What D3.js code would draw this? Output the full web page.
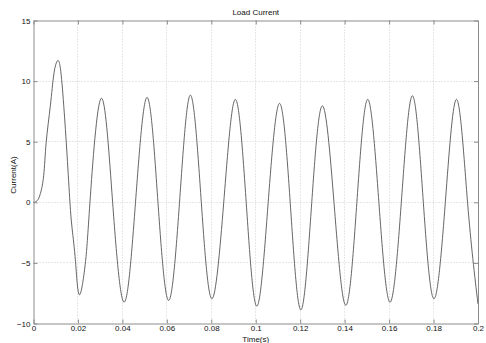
<!DOCTYPE html>
<html>
<head>
<meta charset="utf-8">
<script src="https://cdn.jsdelivr.net/npm/d3@7"></script>
<style>
  body { margin: 0; background: #fff; }
  svg { display: block; font-family: "Liberation Sans", Arial, sans-serif; }
  .grid line { stroke: #cfcfcf; stroke-dasharray: 1,2; }
</style>
</head>
<body>
<script>
// time (s) and current (A): extremes, zero crossings, early transient
var times = [0, 0.0017, 0.0031, 0.0046, 0.0057, 0.0076, 0.0091, 0.01065, 0.0121, 0.0136, 0.0151, 0.0164,
  0.0174, 0.0189, 0.0207, 0.0234, 0.0254, 0.0304, 0.0356, 0.0408, 0.0459, 0.0511, 0.0560, 0.0608,
  0.0657, 0.0706, 0.0755, 0.0803, 0.0856, 0.0908, 0.0957, 0.1005, 0.1056, 0.1107, 0.1155, 0.1203,
  0.1252, 0.1300, 0.1352, 0.1405, 0.1455, 0.1504, 0.1554, 0.1604, 0.1655, 0.1705, 0.1754, 0.1802,
  0.1853, 0.1904, 0.1953, 0.2];
var current = [0, 0.14, 0.72, 2.23, 4.93, 8.0, 10.5, 11.65, 11.05, 8.0, 3.9, 0,
  -2.2, -4.9, -7.63, -4.9, 0, 8.57, 0, -8.24, 0, 8.65, 0, -8.1,
  0, 8.84, 0, -7.96, 0, 8.49, 0, -8.57, 0, 8.16, 0, -8.87,
  0, 7.96, 0, -8.5, 0, 8.49, 0, -8.24, 0, 8.79, 0, -7.96,
  0, 8.49, 0, -8.4];
var xTicks = [0, 0.02, 0.04, 0.06, 0.08, 0.1, 0.12, 0.14, 0.16, 0.18, 0.2];
var yTicks = [-10, -5, 0, 5, 10, 15];

var margin = {top: 20.5, right: 8, bottom: 19.5, left: 33.5},
    width = 486 - margin.left - margin.right,
    height = 343 - margin.top - margin.bottom;

var data = times.map(function(t, i) { return {t: t, v: current[i]}; });

var x = d3.scaleLinear().domain([0, 0.2]).range([0, width]);
var y = d3.scaleLinear().domain([-10, 15]).range([height, 0]);

var svg = d3.select("body").append("svg")
    .attr("width", 486)
    .attr("height", 343);

var g = svg.append("g")
    .attr("transform", "translate(" + margin.left + "," + margin.top + ")");

//grid lines
var grid = g.append("g").attr("class", "grid");
grid.selectAll(".gx")
  .data(xTicks.slice(1, -1))
  .enter().append("line")
    .attr("x1", function(d) { return Math.round(x(d)); })
    .attr("x2", function(d) { return Math.round(x(d)); })
    .attr("y1", 0).attr("y2", height);
grid.selectAll(".gy")
  .data(yTicks.slice(1, -1))
  .enter().append("line")
    .attr("y1", function(d) { return Math.round(y(d)); })
    .attr("y2", function(d) { return Math.round(y(d)); })
    .attr("x1", 0).attr("x2", width);

//the current trace
var line = d3.line()
    .x(function(d) { return x(d.t); })
    .y(function(d) { return y(d.v); })
    .curve(d3.curveNatural);

g.append("path")
  .datum(data)
  .attr("fill", "none")
  .attr("stroke", "#555")
  .attr("stroke-width", 0.9)
  .attr("d", line);

//axes, MATLAB style: ticks inward on all sides
function styleAxis(sel) {
  sel.select(".domain").attr("stroke", "#8c8c8c");
  sel.selectAll(".tick line").attr("stroke", "#8c8c8c");
  sel.selectAll("text").attr("fill", "#111").attr("font-size", "8px");
}

g.append("g")
  .attr("transform", "translate(0," + height + ")")
  .call(d3.axisBottom(x).tickValues(xTicks).tickSize(-4).tickSizeOuter(0).tickPadding(2)
    .tickFormat(function(d) { return d3.format("")(+d.toFixed(2)); }))
  .call(styleAxis);

g.append("g")
  .call(d3.axisLeft(y).tickValues(yTicks).tickSize(-4).tickSizeOuter(0).tickPadding(3))
  .call(styleAxis);

g.append("g")
  .call(d3.axisTop(x).tickValues(xTicks).tickSize(-4).tickSizeOuter(0).tickFormat(""))
  .call(styleAxis);

g.append("g")
  .attr("transform", "translate(" + width + ",0)")
  .call(d3.axisRight(y).tickValues(yTicks).tickSize(-4).tickSizeOuter(0).tickFormat(""))
  .call(styleAxis);

//labels
svg.append("text")
  .attr("x", margin.left + width / 2)
  .attr("y", 15)
  .attr("text-anchor", "middle")
  .attr("font-size", "8px")
  .attr("fill", "#111")
  .text("Load Current");

svg.append("text")
  .attr("x", margin.left + width / 2)
  .attr("y", 341.5)
  .attr("text-anchor", "middle")
  .attr("font-size", "8px")
  .attr("fill", "#111")
  .text("Time(s)");

svg.append("text")
  .attr("transform", "translate(16,175) rotate(-90)")
  .attr("text-anchor", "middle")
  .attr("font-size", "8px")
  .attr("fill", "#111")
  .text("Current(A)");
</script>
</body>
</html>
